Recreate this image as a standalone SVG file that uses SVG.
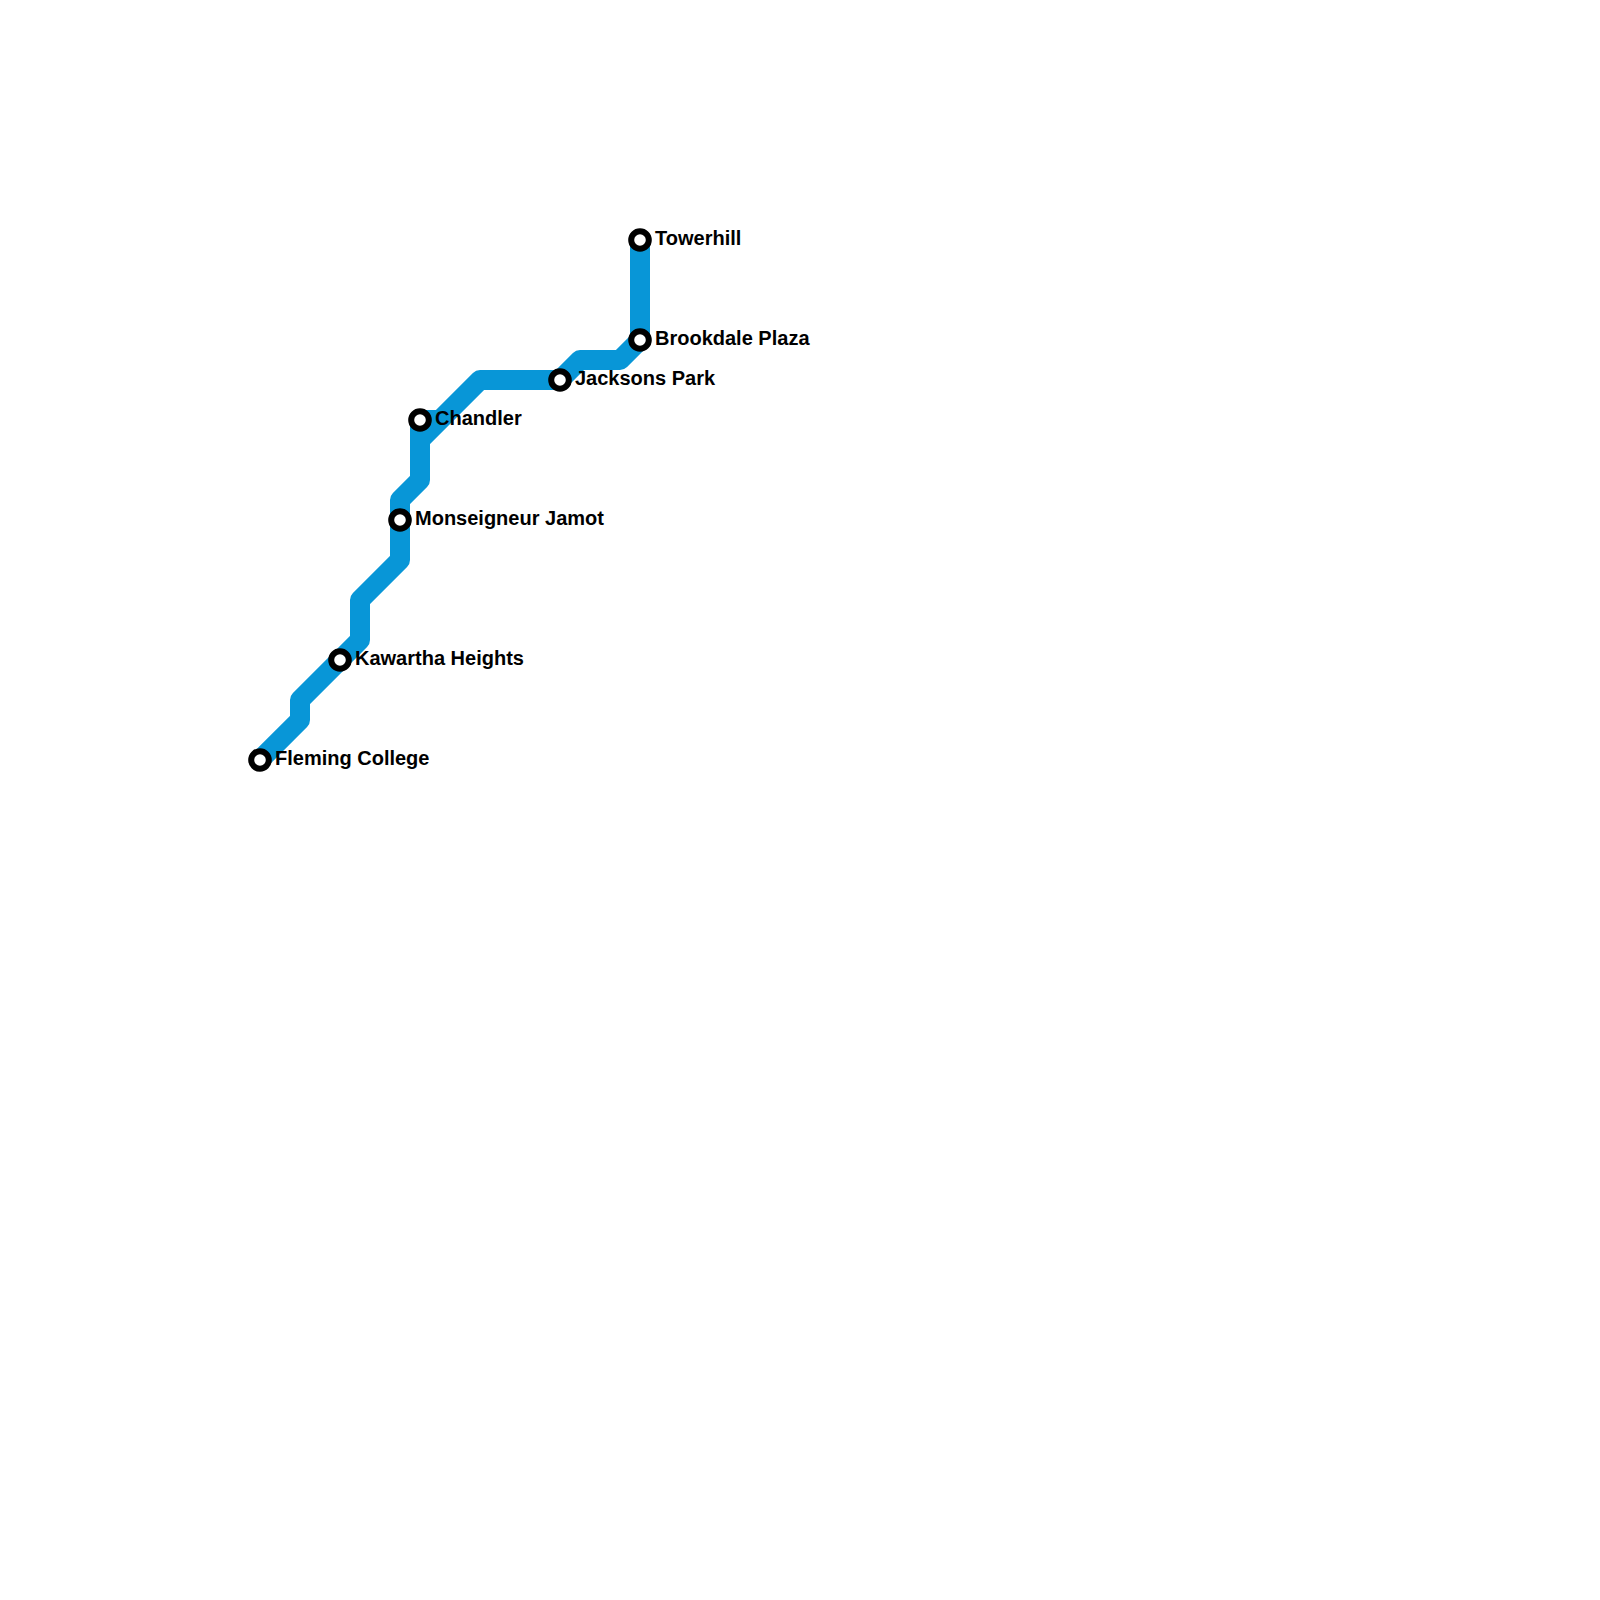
<svg xmlns="http://www.w3.org/2000/svg" width="1600" height="1600" viewBox="0 0 1600 1600">
<style>
.line{fill:none;stroke:#0896d7;stroke-width:20;stroke-linejoin:round;stroke-linecap:butt}
.st{fill:#fff;stroke:#000;stroke-width:6}
.lb{font-family:"Liberation Sans",Arial,sans-serif;font-size:20px;font-weight:bold;fill:#000}
</style>
<rect width="1600" height="1600" fill="#fff"/>
<g id="connectors"><path class="line" d="M260 760L300 720V700L360 640V600L400 560V500L420 480V420H440M420 440L480 380H560M560 380L580 360H620L640 340V240"/></g>
<g id="fleming"><circle class="st" cx="260" cy="760" r="8.8"/><text class="lb" x="275" y="765">Fleming College</text></g>
<g id="kawartha"><circle class="st" cx="340" cy="660" r="8.8"/><text class="lb" x="355" y="665">Kawartha Heights</text></g>
<g id="monseigneur"><circle class="st" cx="400" cy="520" r="8.8"/><text class="lb" x="415" y="525">Monseigneur Jamot</text></g>
<g id="chandler"><circle class="st" cx="420" cy="420" r="8.8"/><text class="lb" x="435" y="425">Chandler</text></g>
<g id="jacksons"><circle class="st" cx="560" cy="380" r="8.8"/><text class="lb" x="575" y="385">Jacksons Park</text></g>
<g id="brookdale"><circle class="st" cx="640" cy="340" r="8.8"/><text class="lb" x="655" y="345">Brookdale Plaza</text></g>
<g id="towerhill"><circle class="st" cx="640" cy="240" r="8.8"/><text class="lb" x="655" y="245">Towerhill</text></g>
</svg>
